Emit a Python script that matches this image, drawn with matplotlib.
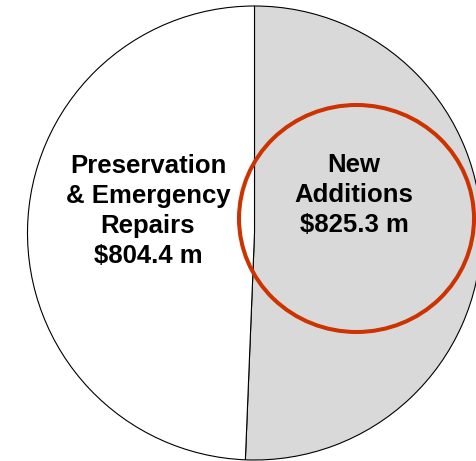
import matplotlib.pyplot as plt
from matplotlib.patches import Ellipse

# datos
categorias = ["New\nAdditions", "Preservation\n& Emergency\nRepairs"]
valores = [825.3, 804.4]      # millones de dólares
colores = ["#D9D9D9", "#FFFFFF"]

W, H = 476, 461
fig = plt.figure(figsize=(W / 100, H / 100), dpi=100)
ax = fig.add_axes([0, 0, 1, 1])

centro = (254.5, H - 233)
radio = 227

ax.pie(valores, colors=colores, startangle=90, counterclock=False,
       center=centro, radius=radio, frame=True,
       wedgeprops=dict(edgecolor="black", linewidth=0.8))

# ovalo rojo de resaltado
ax.add_patch(Ellipse((356.5, H - 218.5), 235, 227, fill=False,
                     edgecolor="#CC3300", linewidth=2.9, zorder=5))

# etiquetas
pos_texto = [(354, H - 195), (148, H - 211)]
for cat, val, (x, y) in zip(categorias, valores, pos_texto):
    ax.text(x, y, f"{cat}\n${val:.1f} m", ha="center", va="center",
            fontsize=18.5, fontweight="bold", family="Liberation Sans",
            linespacing=1.3, zorder=6)

ax.set_xlim(0, W)
ax.set_ylim(0, H)
ax.set_aspect("equal")
ax.axis("off")

fig.savefig("out.png", dpi=100)
